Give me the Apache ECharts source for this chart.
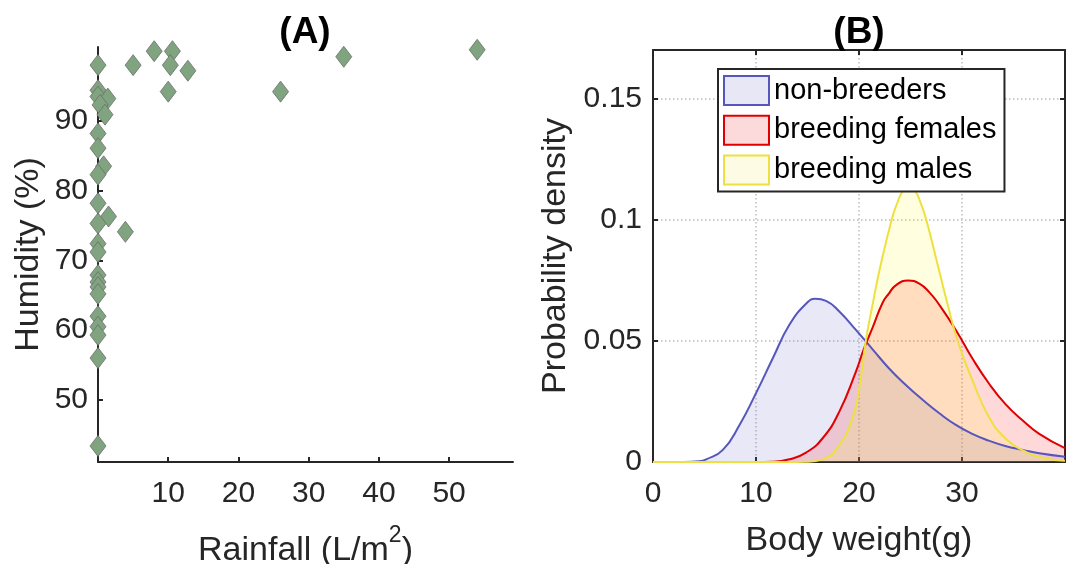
<!DOCTYPE html>
<html><head><meta charset="utf-8">
<script src="https://cdn.jsdelivr.net/npm/echarts@6/dist/echarts.min.js"></script>
<style>html,body{margin:0;padding:0;background:#fff}#c{width:1073px;height:564px}</style>
</head><body><div id="c"></div>
<script>
// ---- Panel A data (rainfall L/m2, humidity %) ----
const rainfall = [0, 5, 8, 10.6, 10.3, 12.8, 10, 26, 35, 54,
  0, 0, 1.4, 0.3, 1, 0, 0, 0.8, 0, 0, 1.5, 0, 3.9, 0, 0, 0, 0, 0, 0, 0, 0, 0, 0, 0];
const humidity = [98, 98, 100, 100, 98, 97.2, 94.2, 94.2, 99.2, 100.2,
  94.4, 93.5, 93.2, 92.3, 90.9, 88.2, 86.1, 83.5, 82.3, 78.2, 76.3, 75.3, 74.1, 72.4, 71.2,
  67.9, 66.9, 66.2, 65.2, 62, 60.5, 59.3, 56, 43.4];
const humidityTicks = [50, 60, 70, 80, 90];
const rainfallTicks = [10, 20, 30, 40, 50];

// ---- Panel B data (body weight g, probability density) ----
const nonBreeders = [[0,0],[3,0],[4.5,0.0003],[5.17,0.0011],[6.78,0.005],[8.4,0.0153],[10.0,0.0284],
  [11.63,0.0428],[13.24,0.0566],[14.86,0.0653],[15.76,0.0674],[16.8,0.0665],[18.09,0.0621],
  [19.7,0.0545],[21.3,0.0466],[22.9,0.0387],[24.55,0.0318],[26.2,0.0256],[27.8,0.0201],
  [29.4,0.0153],[31.0,0.0116],[32.6,0.0088],[34.2,0.0066],[35.9,0.005],[37.5,0.0036],[40,0.0022]];
const breedingFemales = [[0,0],[10,0],[11.6,0.0001],[13.24,0.0011],[14.86,0.0039],[16.47,0.0098],
  [18.09,0.0208],[19.7,0.0373],[20.5,0.047],[21.3,0.0552],[22.28,0.0656],[22.9,0.0695],
  [23.6,0.073],[24.75,0.0749],[25.9,0.0735],[26.9,0.0697],[27.6,0.066],[29.4,0.0545],[31.0,0.0428],
  [32.6,0.0325],[34.2,0.024],[35.9,0.0171],[37.5,0.0116],[40,0.0057]];
const breedingMales = [[0,0],[13,0],[14.86,0.0001],[16.47,0.0011],[18.09,0.007],[19.4,0.0187],
  [20.0,0.0298],[20.65,0.0497],[21.35,0.0656],[22.0,0.0793],[23.17,0.1],[23.72,0.1069],
  [24.25,0.1118],[24.85,0.1131],[25.45,0.1118],[25.98,0.1069],[26.53,0.1],[27.76,0.0793],
  [28.57,0.0656],[29.6,0.0497],[31.0,0.0339],[32.6,0.0187],[34.2,0.0098],[35.9,0.0048],
  [37.5,0.0021],[40,0.0005]];
const groupNames = ['non-breeders', 'breeding females', 'breeding males'];

const FONT = '"Liberation Sans", Arial, Helvetica, sans-serif';
const AX = '#262626';
const scatterData = rainfall.map((r, i) => [r, humidity[i]]);

const chart = echarts.init(document.getElementById('c'), null, {renderer: 'canvas'});

const tickInside = {show: true, inside: true, length: 5, lineStyle: {color: AX, width: 2}};
const lbl = {color: AX, fontSize: 30, fontFamily: FONT};
const nameStyle = {color: AX, fontSize: 34, fontFamily: FONT};

const option = {
  backgroundColor: '#fff',
  animation: false,
  title: [
    {text: '(A)', left: 305, top: 14, padding: 0, textAlign: 'center',
     textStyle: {fontSize: 37, fontWeight: 'bold', color: '#000', fontFamily: FONT}},
    {text: '(B)', left: 859, top: 14, padding: 0, textAlign: 'center',
     textStyle: {fontSize: 37, fontWeight: 'bold', color: '#000', fontFamily: FONT}}
  ],
  legend: {
    left: 718, top: 69, orient: 'vertical',
    padding: [6, 8, 6, 5],
    itemWidth: 45, itemHeight: 29, itemGap: 8.7,
    borderColor: AX, borderWidth: 2, backgroundColor: '#fff',
    selectedMode: false,
    textStyle: {fontSize: 29, color: '#000', fontFamily: FONT, lineHeight: 29},
    data: [
      {name: groupNames[0], icon: 'rect', itemStyle: {color: '#e7e7f6', borderColor: '#5656bc', borderWidth: 2}},
      {name: groupNames[1], icon: 'rect', itemStyle: {color: '#fcdadb', borderColor: '#e00000', borderWidth: 2}},
      {name: groupNames[2], icon: 'rect', itemStyle: {color: '#fdfbe3', borderColor: '#eee040', borderWidth: 2}}
    ]
  },
  grid: [
    {left: 98, right: 560, top: 47, bottom: 102, outerBoundsMode: 'none', containLabel: false},
    {left: 653, right: 8, top: 50, bottom: 102, outerBoundsMode: 'none', containLabel: false}
  ],
  xAxis: [
    {gridIndex: 0, type: 'value', min: 0, max: 59.1,
     name: 'Rainfall (L/m{sup|2})', nameLocation: 'middle', nameGap: 62, nameMoveOverlap: false,
     nameTextStyle: {color: AX, fontSize: 34, fontFamily: FONT,
       rich: {sup: {fontSize: 23, color: AX, fontFamily: FONT, padding: [0, 0, 30, 0]}}},
     axisLine: {show: true, onZero: false, lineStyle: {color: AX, width: 2}},
     axisTick: Object.assign({customValues: rainfallTicks}, tickInside),
     axisLabel: Object.assign({customValues: rainfallTicks, margin: 17}, lbl),
     splitLine: {show: false}},
    {gridIndex: 1, type: 'value', min: 0, max: 40, interval: 10, position: 'bottom',
     name: 'Body weight(g)', nameLocation: 'middle', nameGap: 62, nameMoveOverlap: false,
     nameTextStyle: nameStyle,
     axisLine: {show: true, onZero: false, lineStyle: {color: AX, width: 2}},
     axisTick: tickInside,
     axisLabel: Object.assign({margin: 17, showMaxLabel: false}, lbl),
     splitLine: {show: true, lineStyle: {color: '#bdbdbd', width: 1.5, type: [1.5, 2.5]}}},
    {gridIndex: 1, type: 'value', min: 0, max: 40, interval: 10, position: 'top',
     axisLine: {show: true, onZero: false, lineStyle: {color: AX, width: 2}},
     axisTick: tickInside, axisLabel: {show: false}, splitLine: {show: false}}
  ],
  yAxis: [
    {gridIndex: 0, type: 'value', min: 41.1, max: 100.6,
     name: 'Humidity (%)', nameLocation: 'middle', nameGap: 52, nameMoveOverlap: false,
     nameTextStyle: nameStyle,
     axisLine: {show: true, onZero: false, lineStyle: {color: AX, width: 2}},
     axisTick: Object.assign({customValues: humidityTicks}, tickInside),
     axisLabel: Object.assign({customValues: humidityTicks, margin: 10}, lbl),
     splitLine: {show: false}},
    {gridIndex: 1, type: 'value', min: 0, max: 0.17, interval: 0.05, position: 'left',
     name: 'Probability density', nameLocation: 'middle', nameGap: 80, nameMoveOverlap: false,
     nameTextStyle: nameStyle,
     axisLine: {show: true, onZero: false, lineStyle: {color: AX, width: 2}},
     axisTick: tickInside,
     axisLabel: Object.assign({margin: 11, showMaxLabel: false}, lbl),
     splitLine: {show: true, lineStyle: {color: '#bdbdbd', width: 1.5, type: [1.5, 2.5]}}},
    {gridIndex: 1, type: 'value', min: 0, max: 0.17, interval: 0.05, position: 'right',
     axisLine: {show: true, onZero: false, lineStyle: {color: AX, width: 2}},
     axisTick: tickInside, axisLabel: {show: false}, splitLine: {show: false}}
  ],
  series: [
    {type: 'scatter', xAxisIndex: 0, yAxisIndex: 0, data: scatterData,
     symbol: 'diamond', symbolSize: [16, 21],
     itemStyle: {color: '#7fa47f', borderColor: '#6e6e6e', borderWidth: 0.8, opacity: 1}},
    {type: 'line', name: groupNames[0], xAxisIndex: 1, yAxisIndex: 1, data: nonBreeders,
     smooth: 0.5, showSymbol: false, symbol: 'none',
     lineStyle: {color: '#5656bc', width: 2}, itemStyle: {color: '#5656bc'},
     areaStyle: {color: 'rgb(102,102,204)', opacity: 0.15}},
    {type: 'line', name: groupNames[1], xAxisIndex: 1, yAxisIndex: 1, data: breedingFemales,
     smooth: 0.5, showSymbol: false, symbol: 'none',
     lineStyle: {color: '#e00000', width: 2}, itemStyle: {color: '#e00000'},
     areaStyle: {color: 'rgb(255,0,0)', opacity: 0.15}},
    {type: 'line', name: groupNames[2], xAxisIndex: 1, yAxisIndex: 1, data: breedingMales,
     smooth: 0.5, showSymbol: false, symbol: 'none',
     lineStyle: {color: '#eee040', width: 2}, itemStyle: {color: '#eee040'},
     areaStyle: {color: 'rgb(255,255,0)', opacity: 0.12}}
  ]
};
chart.setOption(option);
</script>
</body></html>
